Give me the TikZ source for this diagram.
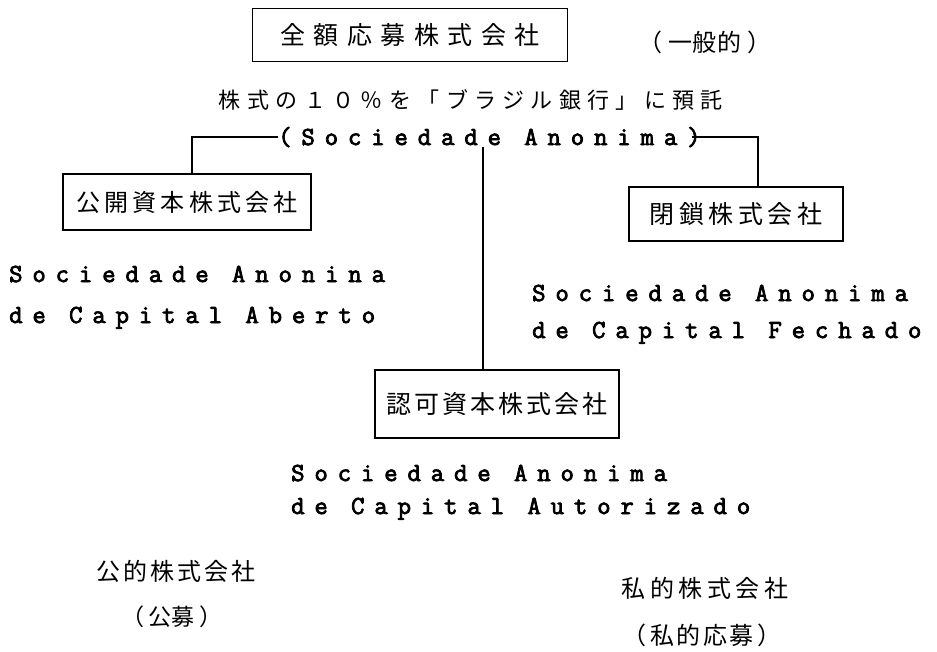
\documentclass[tikz,border=0pt]{standalone}
\usepackage{fontspec}
\newfontfamily\cjk{Noto Sans CJK JP}
\newfontfamily\lat[LetterSpace=38,FakeBold=3]{Latin Modern Mono}
\newcommand\jpfont[2]{\cjk\fontsize{#1}{#1}\selectfont\addfontfeature{LetterSpace=#2}}
\newcommand\lt[1]{#1\kern-9pt}
\begin{document}
\begin{tikzpicture}[x=1pt,y=-1pt,
  box/.style={draw,line width=1.2pt,inner sep=0pt},
  conn/.style={line width=1.3pt},
  la/.style={inner sep=0pt,anchor=base west,font=\lat\fontsize{26}{26}\selectfont}]
\fill[white] (0,0) rectangle (937,651);
\useasboundingbox (0,0) rectangle (937,651);

\node[box,minimum width=315pt,minimum height=53pt,font=\jpfont{25}{34}] (top) at (410,35) {全額応募株式会社};
\node[font=\jpfont{24}{4}] (gen) at (705,42) {（\hspace{6pt}一般的\hspace{6pt}）};
\node[font=\jpfont{22}{29}] (dep) at (471,100) {株式の１０％を「ブラジル銀行」に預託};
\node[la] (sa) at (278,145) {\lt{(Sociedade Anonima)}};

\node[box,minimum width=248pt,minimum height=56pt,font=\jpfont{24}{17}] (lbox) at (187,202) {公開資本株式会社};
\node[box,minimum width=214pt,minimum height=54pt,font=\jpfont{25}{18}] (rbox) at (736,214) {閉鎖株式会社};
\node[box,minimum width=244pt,minimum height=68pt,font=\jpfont{25}{12}] (mbox) at (497,404) {認可資本株式会社};

\node[la] (l1) at (9,282) {\lt{Sociedade Anonina}};
\node[la] (l2) at (9,323) {\lt{de Capital Aberto}};
\node[la] (r1) at (532,301) {\lt{Sociedade Anonima}};
\node[la] (r2) at (532,338) {\lt{de Capital Fechado}};
\node[la] (m1) at (291,481) {\lt{Sociedade Anonima}};
\node[la] (m2) at (291,514) {\lt{de Capital Autorizado}};

\node[font=\jpfont{24}{13}] (pub) at (176,571) {公的株式会社};
\node[font=\jpfont{23}{0}] (pubb) at (172,617) {（\hspace{5pt}公募\hspace{5pt}）};
\node[font=\jpfont{24}{19}] (pri) at (705,588) {私的株式会社};
\node[font=\jpfont{24}{9}] (prib) at (702,635) {（\hspace{4pt}私的応募\hspace{4pt}）};

\coordinate (c0) at ([xshift=483pt]sa.south -| 0,0);
\draw[conn] (sa.west) -| ([xshift=5pt]lbox.north);
\draw[conn] (sa.east) -| ([xshift=22pt]rbox.north);
\draw[conn] (c0) -- (c0 |- mbox.north);
\end{tikzpicture}
\end{document}
